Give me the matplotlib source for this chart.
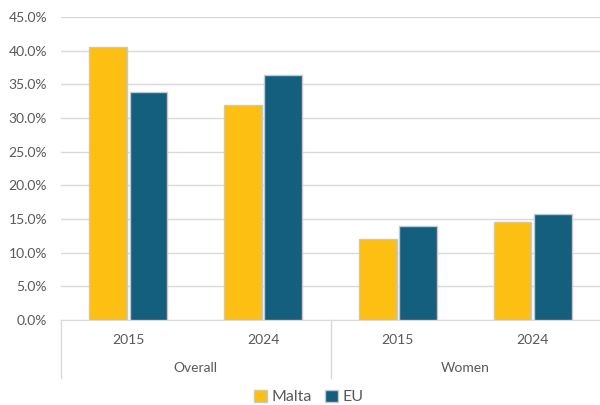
import matplotlib.pyplot as plt
import numpy as np

plt.rcParams['font.family'] = ['Lato', 'DejaVu Sans']

years = ["2015", "2024", "2015", "2024"]
groups = ["Overall", "Women"]
malta = [40.5, 32.0, 12.0, 14.5]
eu = [33.9, 36.4, 14.0, 15.8]

malta_color = "#FCBF12"
eu_color = "#145E7E"
text_color = "#595959"

fig = plt.figure(figsize=(6, 4.05), dpi=100)
ax = fig.add_axes([61 / 600, 1 - 320 / 405, 539 / 600, 303 / 405])

x = np.arange(len(years))
w = 0.28
ax.bar(x - 0.15, malta, w, color=malta_color, edgecolor="#C8C8C8", linewidth=1, label="Malta", zorder=3)
ax.bar(x + 0.15, eu, w, color=eu_color, edgecolor="#C8C8C8", linewidth=1, label="EU", zorder=3)

ax.set_xlim(-0.5, 3.5)
ax.set_ylim(0, 45)
ax.set_yticks(np.arange(0, 46, 5))
ax.set_yticklabels([f"{v:.1f}%" for v in np.arange(0, 46, 5)])
ax.grid(axis="y", color="#D9D9D9", linewidth=1, zorder=0)

for s in ["top", "right", "left"]:
    ax.spines[s].set_visible(False)
ax.spines["bottom"].set_color("#D9D9D9")

ax.set_xticks(x)
ax.set_xticklabels(years)
ax.tick_params(axis="both", length=0, colors=text_color, labelsize=10)
ax.tick_params(axis="x", pad=10)
ax.tick_params(axis="y", pad=10)

# second level of the category axis
trans = ax.get_xaxis_transform()
for xv in [-0.5, 1.5]:
    ax.plot([xv, xv], [0, -0.19], transform=trans, color="#D9D9D9", linewidth=1, clip_on=False)
for i, g in enumerate(groups):
    ax.text(2 * i + 0.5, -0.16, g, transform=trans, ha="center", va="center",
            color=text_color, fontsize=10)

fig.legend(loc="center", bbox_to_anchor=(0.515, 1 - 397 / 405), ncol=2, frameon=False,
           handlelength=0.8, handleheight=0.8, handletextpad=0.3, columnspacing=0.8,
           labelcolor=text_color, prop={"size": 11.5})

fig.savefig("out.png", dpi=100)
